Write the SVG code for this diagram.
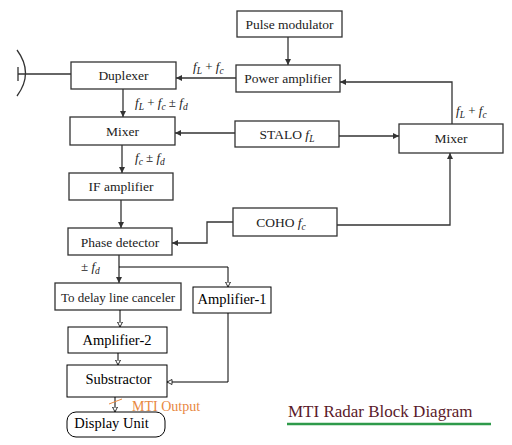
<svg xmlns="http://www.w3.org/2000/svg" width="512" height="445" viewBox="0 0 512 445" font-family="Liberation Serif, serif">
<defs>
<marker id="af" viewBox="0 0 10 10" refX="10" refY="5" markerWidth="9" markerHeight="6" markerUnits="userSpaceOnUse" orient="auto"><path d="M0,0 L10,5 L0,10 z" fill="#333"/></marker>
<marker id="ah" viewBox="0 0 12 12" refX="11" refY="6" markerWidth="6" markerHeight="6" markerUnits="userSpaceOnUse" orient="auto"><path d="M1,1 L11,6 L1,11 z" fill="#fff" stroke="#000" stroke-width="1.6"/></marker>
</defs>
<style>
text{font-family:'Liberation Serif',serif}
.u rect{fill:#fff;stroke:#333;stroke-width:1.3}
.u text{font-size:13.5px;fill:#222;text-anchor:middle}
.l rect{fill:#fff;stroke:#000;stroke-width:1}
.l text{font-size:14.5px;fill:#000;text-anchor:middle}
.cu{fill:none;stroke:#333;stroke-width:1.3}
.cl{fill:none;stroke:#000;stroke-width:1}
.lab{font-size:13px;fill:#222}
.i{font-style:italic}
.s{font-size:9.5px;font-style:italic}
</style>
<rect width="512" height="445" fill="#fff"/>
<g id="antenna" class="cu">
<path d="M17,50 Q34,73 17,96"/>
<path d="M18,67 V81"/>
<path d="M18,74 H71"/>
</g>
<g id="pulse-modulator" class="u"><rect x="237" y="11" width="105" height="26"/><text x="289.5" y="29" font-family="Liberation Serif">Pulse modulator</text></g>
<g id="power-amplifier" class="u"><rect x="236" y="65" width="104" height="27"/><text x="288" y="83" font-family="Liberation Serif">Power amplifier</text></g>
<g id="duplexer" class="u"><rect x="71" y="62" width="105" height="27"/><text x="123.5" y="80" font-family="Liberation Serif">Duplexer</text></g>
<g id="mixer-left" class="u"><rect x="70" y="117" width="105" height="28"/><text x="122.5" y="136" font-family="Liberation Serif">Mixer</text></g>
<g id="stalo" class="u"><rect x="235" y="121" width="104" height="26"/><text x="287" y="139" font-family="Liberation Serif">STALO <tspan class="i">f</tspan><tspan class="s" dy="3">L</tspan></text></g>
<g id="mixer-right" class="u"><rect x="399" y="124" width="104" height="29"/><text x="451" y="143" font-family="Liberation Serif">Mixer</text></g>
<g id="coho" class="u"><rect x="233" y="208" width="104" height="28"/><text x="281" y="227" font-family="Liberation Serif">COHO <tspan class="i">f</tspan><tspan class="s" dy="3">c</tspan></text></g>
<g id="if-amplifier" class="u"><rect x="69" y="173" width="104" height="27"/><text x="121" y="191" font-family="Liberation Serif">IF amplifier</text></g>
<g id="phase-detector" class="u"><rect x="68" y="228" width="104" height="27"/><text x="120" y="247" font-family="Liberation Serif">Phase detector</text></g>
<g id="delay-line" class="u"><rect x="55" y="283" width="126" height="27"/><text x="118" y="302" font-family="Liberation Serif" style="font-size:13px">To delay line canceler</text></g>
<g id="amplifier-1" class="l"><rect x="193" y="287" width="78" height="26"/><text x="232" y="304" font-family="Liberation Serif">Amplifier-1</text></g>
<g id="amplifier-2" class="l"><rect x="68" y="327" width="99" height="26"/><text x="117" y="345" font-family="Liberation Serif">Amplifier-2</text></g>
<g id="substractor" class="l"><rect x="67" y="365" width="100" height="32"/><text x="118.5" y="384" font-family="Liberation Serif">Substractor</text></g>
<g id="display-unit" class="l"><rect x="67" y="412" width="98" height="25" rx="9" ry="9"/><text x="111.5" y="428" font-family="Liberation Serif">Display Unit</text></g>
<g id="connectors">
<path class="cu" d="M288,37 V65" marker-end="url(#af)"/>
<path class="cu" d="M236,78 H176" marker-end="url(#af)"/>
<path class="cu" d="M123,89 V117" marker-end="url(#af)"/>
<path class="cu" d="M235,133 H175" marker-end="url(#af)"/>
<path class="cu" d="M339,136 H399" marker-end="url(#af)"/>
<path class="cu" d="M452,124 V82 H340" marker-end="url(#af)"/>
<path class="cu" d="M337,225 H450 V153" marker-end="url(#af)"/>
<path class="cu" d="M233,222 H207 V243 H172" marker-end="url(#af)"/>
<path class="cu" d="M122,145 V173" marker-end="url(#af)"/>
<path class="cu" d="M121,200 V228" marker-end="url(#af)"/>
<path class="cu" d="M119,255 V283" marker-end="url(#af)"/>
<path class="cl" d="M119,267 H228 V287" marker-end="url(#ah)"/>
<path class="cl" d="M120,310 V327" marker-end="url(#ah)"/>
<path class="cl" d="M228,313 V382 H167" marker-end="url(#ah)"/>
<path class="cl" d="M118,353 V365" marker-end="url(#ah)"/>
<path class="cl" d="M115,397 V412" marker-end="url(#ah)"/>
<path d="M109,404 L122,399" stroke="#e8883f" stroke-width="1" fill="none"/>
</g>
<g id="labels" font-family="Liberation Serif">
<text class="lab" x="193" y="71"><tspan class="i">f</tspan><tspan class="s" dy="3">L</tspan><tspan dy="-3"> + </tspan><tspan class="i">f</tspan><tspan class="s" dy="3">c</tspan></text>
<text class="lab" x="135" y="107"><tspan class="i">f</tspan><tspan class="s" dy="3">L</tspan><tspan dy="-3"> + </tspan><tspan class="i">f</tspan><tspan class="s" dy="3">c</tspan><tspan dy="-3"> ± </tspan><tspan class="i">f</tspan><tspan class="s" dy="3">d</tspan></text>
<text class="lab" x="135" y="162"><tspan class="i">f</tspan><tspan class="s" dy="3">c</tspan><tspan dy="-3"> ± </tspan><tspan class="i">f</tspan><tspan class="s" dy="3">d</tspan></text>
<text class="lab" x="456" y="115"><tspan class="i">f</tspan><tspan class="s" dy="3">L</tspan><tspan dy="-3"> + </tspan><tspan class="i">f</tspan><tspan class="s" dy="3">c</tspan></text>
<text class="lab" x="81" y="271">± <tspan class="i">f</tspan><tspan class="s" dy="3">d</tspan></text>
<text x="132" y="411" style="font-size:14px;fill:#e8883f">MTI Output</text>
<text x="288" y="417" style="font-size:17px;fill:#5a1a2a">MTI Radar Block Diagram</text>
<line x1="287" y1="424" x2="491" y2="424" stroke="#2e9a4a" stroke-width="2.5"/>
</g>
</svg>
